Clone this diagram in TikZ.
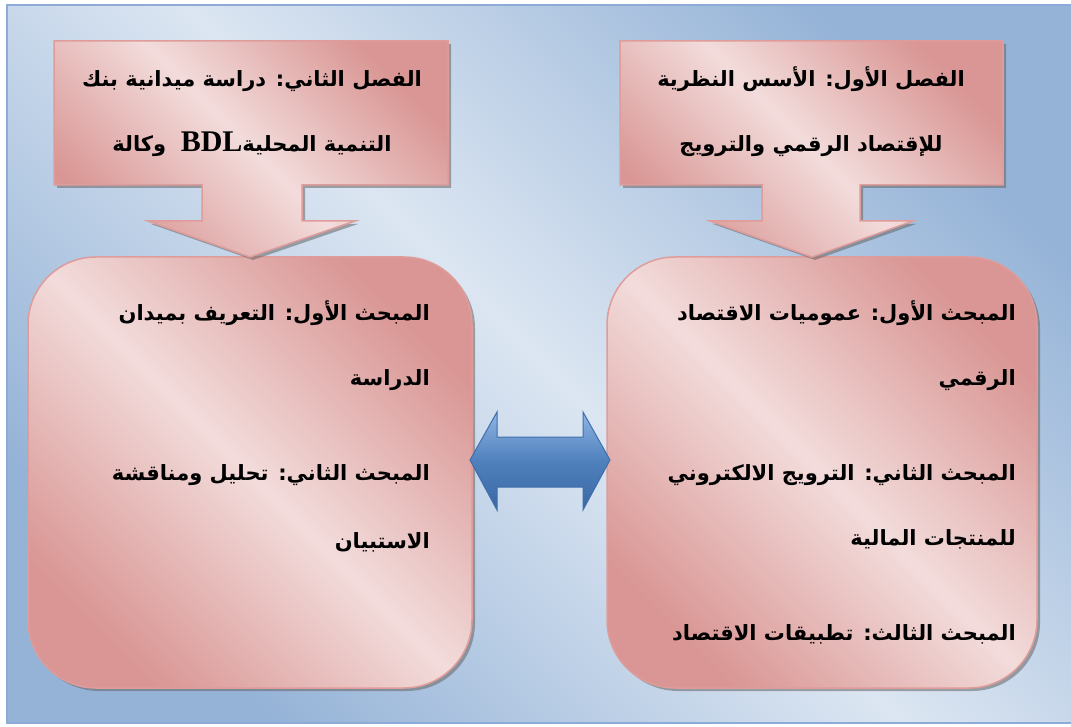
\documentclass[tikz,border=0pt]{standalone}
\usepackage{fontspec}
\TeXXeTstate=1
\newfontfamily\arabicfont[Script=Arabic]{DejaVu Sans}
\newfontfamily\latinserif{Liberation Serif}
\definecolor{bglight}{HTML}{DCE6F2}
\definecolor{bgdark}{HTML}{95B3D7}
\definecolor{frameedge}{HTML}{8EAAD6}
\definecolor{pinklight}{HTML}{F2DCDB}
\definecolor{pinkdark}{HTML}{D99694}
\definecolor{pinkedge}{HTML}{DE9C9A}
\definecolor{arrowlight}{HTML}{8FB4E3}
\definecolor{arrowmid}{HTML}{4F81BD}
\definecolor{arrowdark}{HTML}{3A67A3}
\definecolor{arrowedge}{HTML}{3F6FAC}
\tikzset{
  bgshade/.style={top color=bgdark, bottom color=bgdark, middle color=bglight, shading angle=-45},
  pinkshape/.style={top color=pinkdark, bottom color=pinkdark, middle color=pinklight, shading angle=-45, draw=pinkedge, line width=1.5pt},
  dropshadow/.style={fill=black!60, opacity=0.55, shift={(3,3)}},
  bluearrow/.style={top color=arrowlight, bottom color=arrowdark, middle color=arrowmid, draw=arrowedge, line width=1pt},
  arlabel/.style={font=\arabicfont\bfseries\fontsize{21}{25}\selectfont, inner sep=0pt, text=black},
  rightline/.style={arlabel, anchor=base east},
  centerline/.style={arlabel, anchor=base},
}
\newcommand{\RL}[1]{\beginR #1\endR}
\begin{document}
\begin{tikzpicture}[x=1pt,y=-1pt]
\useasboundingbox (0,0) rectangle (1071,727);
\fill[white] (0,0) rectangle (1071,727);
% framed background
\path[bgshade] (7,5) rectangle (1080,723);
\draw[frameedge, line width=2pt] (7,5) rectangle (1080,723);

% lower rounded boxes
\foreach \xa/\xb in {28/472, 607/1037}{
  \fill[dropshadow, rounded corners=68pt] (\xa,257) rectangle (\xb,688);
  \path[pinkshape, rounded corners=68pt] (\xa,257) rectangle (\xb,688);
}

% chapter boxes with downward arrow
\foreach \xa/\xb/\sa/\sb/\wa/\wb/\tip in {54/448/202/302/148/355/250, 620/1003/762/860/710/913/812}{
  \fill[dropshadow] (\xa,41) -- (\xb,41) -- (\xb,185) -- (\sb,185) -- (\sb,221) -- (\wb,221) -- (\tip,257)
     -- (\wa,221) -- (\sa,221) -- (\sa,185) -- (\xa,185) -- cycle;
  \path[pinkshape] (\xa,41) -- (\xb,41) -- (\xb,185) -- (\sb,185) -- (\sb,221) -- (\wb,221) -- (\tip,257)
     -- (\wa,221) -- (\sa,221) -- (\sa,185) -- (\xa,185) -- cycle;
}

% two-way arrow between the sections
\path[bluearrow] (470,460) -- (497,412) -- (497,437) -- (583,437) -- (583,412) -- (610,460)
   -- (583,510) -- (583,487) -- (497,487) -- (497,510) -- cycle;

% chapter titles
\node[centerline] (c2a) at (252,87) {\RL{الفصل الثاني: دراسة ميدانية بنك}};
\node[centerline] (c2b) at (252,152) {\RL{التنمية المحلية\beginL{\latinserif\bfseries\fontsize{30}{32}\selectfont BDL}\endL\ \ وكالة}};
\node[centerline] (c1a) at (811,87) {\RL{الفصل الأول: الأسس النظرية}};
\node[centerline] (c1b) at (811,152) {\RL{للإقتصاد الرقمي والترويج}};

% sections of chapter two
\node[rightline] (s21a) at (430,320) {\RL{المبحث الأول: التعريف بميدان}};
\node[rightline] (s21b) at (430,385) {\RL{الدراسة}};
\node[rightline] (s22a) at (430,480) {\RL{المبحث الثاني: تحليل ومناقشة}};
\node[rightline] (s22b) at (430,548) {\RL{الاستبيان}};

% sections of chapter one
\node[rightline] (s11a) at (1016,320) {\RL{المبحث الأول: عموميات الاقتصاد}};
\node[rightline] (s11b) at (1016,385) {\RL{الرقمي}};
\node[rightline] (s12a) at (1016,480) {\RL{المبحث الثاني: الترويج الالكتروني}};
\node[rightline] (s12b) at (1016,545) {\RL{للمنتجات المالية}};
\node[rightline] (s13a) at (1016,640) {\RL{المبحث الثالث: تطبيقات الاقتصاد}};
\end{tikzpicture}
\end{document}
